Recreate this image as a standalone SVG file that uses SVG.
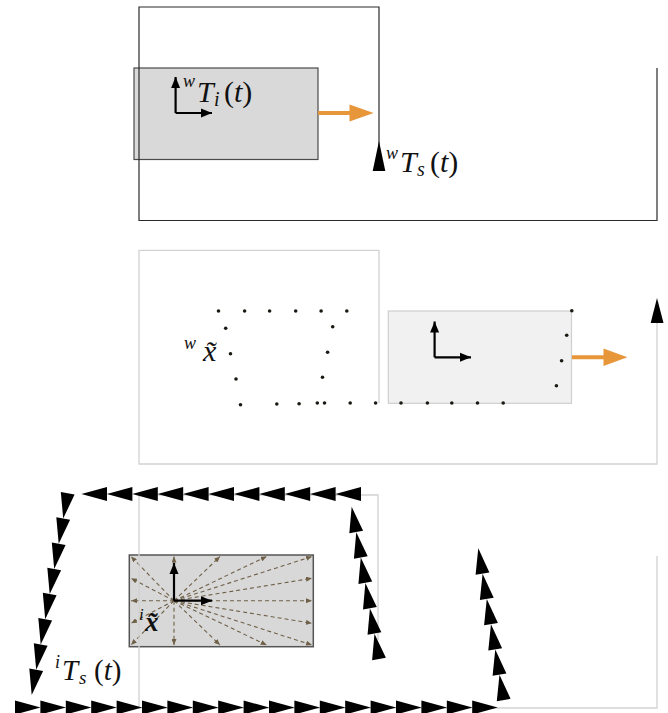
<svg xmlns="http://www.w3.org/2000/svg" xmlns:xlink="http://www.w3.org/1999/xlink" width="668" height="713" viewBox="0 0 668 713">
<style>
.math{font-family:"Liberation Serif","Times New Roman",serif;fill:#111;}
.it{font-style:italic;}
.dark{fill:none;stroke:#2a2a2a;stroke-width:1.2;}
.light{fill:none;stroke:#d2d2d2;stroke-width:1.3;}
.axis{fill:none;stroke:#000;stroke-width:2.2;marker-end:url(#ah);}
.ray{fill:none;stroke:#6f6048;stroke-width:1.1;stroke-dasharray:4 3;marker-end:url(#rh);}
.orange{fill:none;stroke:#e8963a;stroke-width:4;}
.ohead{fill:#e8963a;}
.dot{fill:#1a1a14;}
.tri{fill:#000;}
</style>
<defs>
<marker id="ah" markerUnits="userSpaceOnUse" markerWidth="12" markerHeight="10" refX="11" refY="4.5" orient="auto" viewBox="0 0 12 9"><path d="M0,0 L11,4.5 L0,9 Z" fill="#000"/></marker>
<marker id="rh" markerUnits="userSpaceOnUse" markerWidth="6" markerHeight="5" refX="6" refY="2.5" orient="auto" viewBox="0 0 6 5"><path d="M0,0 L6,2.5 L0,5 Z" fill="#6f6048"/></marker>
<path id="t" d="M0,-7 L25.6,0 L0,7 Z"/>
</defs>

<!-- Top panel -->
<g id="top-body">
<rect x="134" y="68" width="184" height="91.5" fill="#d9d9d9" stroke="#4a4a4a" stroke-width="1.2"/>
</g>
<g id="top-frame">
<path class="dark" d="M379,146 V7 H139 V220.5 H657 V68"/>
<path d="M379,141 L385.3,171 L372.7,171 Z" fill="#000"/>
</g>
<g id="top-axes">
<path class="axis" d="M175.6,113 V77"/>
<path class="axis" d="M175.6,113 H212"/>
</g>
<g id="top-motion">
<path class="orange" d="M318,113 H351"/>
<path class="ohead" d="M349.5,104.5 L373.6,113 L349.5,121.5 Z"/>
</g>
<g id="label-wTi" class="math">
<text x="183" y="87" font-size="18" class="it">w</text>
<text x="197" y="102" font-size="30" class="it">T</text>
<text x="214" y="106" font-size="20" class="it">i</text>
<text x="224" y="102" font-size="30">(<tspan class="it">t</tspan>)</text>
</g>
<g id="label-wTs" class="math">
<text x="386" y="159" font-size="18" class="it">w</text>
<text x="400" y="172" font-size="30" class="it">T</text>
<text x="417" y="176" font-size="20" class="it">s</text>
<text x="430" y="172" font-size="30">(<tspan class="it">t</tspan>)</text>
</g>

<!-- Middle panel -->
<g id="mid-body">
<rect x="388.3" y="311" width="183.2" height="92.3" fill="#f1f1f1" stroke="#cfcfcf" stroke-width="1.2"/>
</g>
<g id="mid-frame">
<path class="light" d="M379,403 V250.3 H139 V464 H657 V322"/>
<path d="M657,298 L663.5,323 L650.7,323 Z" fill="#000"/>
</g>
<g id="mid-axes">
<path class="axis" d="M434.6,357.3 V321.5"/>
<path class="axis" d="M434.6,357.3 H471"/>
</g>
<g id="mid-motion">
<path class="orange" d="M572,357.3 H605"/>
<path class="ohead" d="M603.5,348.5 L627.4,357.3 L603.5,366 Z"/>
</g>
<g id="mid-points">
<circle class="dot" cx="218.5" cy="311" r="1.8"/>
<circle class="dot" cx="244.6" cy="311" r="1.8"/>
<circle class="dot" cx="269.6" cy="311" r="1.8"/>
<circle class="dot" cx="295.7" cy="311" r="1.8"/>
<circle class="dot" cx="321.1" cy="311" r="1.8"/>
<circle class="dot" cx="346.8" cy="311" r="1.8"/>
<circle class="dot" cx="225.7" cy="328.3" r="1.8"/>
<circle class="dot" cx="230.5" cy="353.7" r="1.8"/>
<circle class="dot" cx="236" cy="379" r="1.8"/>
<circle class="dot" cx="240.5" cy="404.7" r="1.8"/>
<circle class="dot" cx="332.7" cy="326.7" r="1.8"/>
<circle class="dot" cx="327.6" cy="352.3" r="1.8"/>
<circle class="dot" cx="322.5" cy="377.3" r="1.8"/>
<circle class="dot" cx="276.8" cy="404" r="1.8"/>
<circle class="dot" cx="299.1" cy="403.7" r="1.8"/>
<circle class="dot" cx="317.3" cy="403" r="1.8"/>
<circle class="dot" cx="324.5" cy="403" r="1.8"/>
<circle class="dot" cx="350.2" cy="403" r="1.8"/>
<circle class="dot" cx="375.6" cy="403" r="1.8"/>
<circle class="dot" cx="401" cy="403" r="1.8"/>
<circle class="dot" cx="427.4" cy="403" r="1.8"/>
<circle class="dot" cx="451.8" cy="403" r="1.8"/>
<circle class="dot" cx="477.5" cy="403" r="1.8"/>
<circle class="dot" cx="503.2" cy="403" r="1.8"/>
<circle class="dot" cx="571.8" cy="310.7" r="1.8"/>
<circle class="dot" cx="566.7" cy="335.3" r="1.8"/>
<circle class="dot" cx="561.6" cy="360.7" r="1.8"/>
<circle class="dot" cx="556.4" cy="385.7" r="1.8"/>
</g>
<g id="label-wx" class="math">
<text x="184" y="349" font-size="18" class="it">w</text>
<text x="203" y="361" font-size="30" class="it">x̃</text>
</g>

<!-- Bottom panel -->
<g id="bot-body">
<rect x="129.3" y="555" width="184" height="91.7" fill="#d8d8d8" stroke="#555" stroke-width="1.5"/>
</g>
<g id="bot-rays">
<path class="ray" d="M174,600.7 L131,556.5"/>
<path class="ray" d="M174,600.7 L174,556.5"/>
<path class="ray" d="M174,600.7 L220,556.5"/>
<path class="ray" d="M174,600.7 L266.7,556.5"/>
<path class="ray" d="M174,600.7 L312,556.5"/>
<path class="ray" d="M174,600.7 L312,578.3"/>
<path class="ray" d="M174,600.7 L312,600.7"/>
<path class="ray" d="M174,600.7 L312,623.3"/>
<path class="ray" d="M174,600.7 L312,645"/>
<path class="ray" d="M174,600.7 L266.7,645"/>
<path class="ray" d="M174,600.7 L220,645"/>
<path class="ray" d="M174,600.7 L174,645"/>
<path class="ray" d="M174,600.7 L131,645"/>
<path class="ray" d="M174,600.7 L131,623.3"/>
<path class="ray" d="M174,600.7 L131,600.7"/>
<path class="ray" d="M174,600.7 L131,578.3"/>
</g>
<g id="bot-frame">
<path class="light" d="M378,640 V495 H139 V708 H657 V556"/>
</g>
<g id="bot-axes">
<path class="axis" d="M174,600.7 V563"/>
<path class="axis" d="M174,600.7 H212"/>
</g>
<g id="label-ix" class="math">
<text x="139" y="620" font-size="17" class="it">i</text>
<text x="145" y="631" font-size="27" class="it" font-weight="bold">x̃</text>
</g>
<g id="label-iTs" class="math">
<text x="55" y="668" font-size="18" class="it">i</text>
<text x="62" y="680" font-size="29" class="it">T</text>
<text x="79" y="684" font-size="19" class="it">s</text>
<text x="94" y="680" font-size="29">(<tspan class="it">t</tspan>)</text>
</g>
<g id="trajectory" class="tri">
<!-- bottom row, pointing right -->
<use xlink:href="#t" href="#t" transform="translate(15,707.5)"/>
<use xlink:href="#t" href="#t" transform="translate(40.4,707.5)"/>
<use xlink:href="#t" href="#t" transform="translate(65.8,707.5)"/>
<use xlink:href="#t" href="#t" transform="translate(91.2,707.5)"/>
<use xlink:href="#t" href="#t" transform="translate(116.6,707.5)"/>
<use xlink:href="#t" href="#t" transform="translate(142,707.5)"/>
<use xlink:href="#t" href="#t" transform="translate(167.4,707.5)"/>
<use xlink:href="#t" href="#t" transform="translate(192.8,707.5)"/>
<use xlink:href="#t" href="#t" transform="translate(218.2,707.5)"/>
<use xlink:href="#t" href="#t" transform="translate(243.6,707.5)"/>
<use xlink:href="#t" href="#t" transform="translate(269,707.5)"/>
<use xlink:href="#t" href="#t" transform="translate(294.4,707.5)"/>
<use xlink:href="#t" href="#t" transform="translate(319.8,707.5)"/>
<use xlink:href="#t" href="#t" transform="translate(345.2,707.5)"/>
<use xlink:href="#t" href="#t" transform="translate(370.6,707.5)"/>
<use xlink:href="#t" href="#t" transform="translate(396,707.5)"/>
<use xlink:href="#t" href="#t" transform="translate(421.4,707.5)"/>
<use xlink:href="#t" href="#t" transform="translate(446.8,707.5)"/>
<use xlink:href="#t" href="#t" transform="translate(472.2,707.5)"/>
<!-- right column 2, pointing up -->
<use xlink:href="#t" href="#t" transform="translate(503.7,700) rotate(-99.5)"/>
<use xlink:href="#t" href="#t" transform="translate(499.5,674.7) rotate(-99.5)"/>
<use xlink:href="#t" href="#t" transform="translate(495.2,649.4) rotate(-99.5)"/>
<use xlink:href="#t" href="#t" transform="translate(491,624.2) rotate(-99.5)"/>
<use xlink:href="#t" href="#t" transform="translate(486.8,598.9) rotate(-99.5)"/>
<use xlink:href="#t" href="#t" transform="translate(482.5,573.6) rotate(-99.5)"/>
<!-- right column 1, pointing up -->
<use xlink:href="#t" href="#t" transform="translate(379,659) rotate(-100.2)"/>
<use xlink:href="#t" href="#t" transform="translate(374.45,633.6) rotate(-100.2)"/>
<use xlink:href="#t" href="#t" transform="translate(369.9,608.2) rotate(-100.2)"/>
<use xlink:href="#t" href="#t" transform="translate(365.3,582.8) rotate(-100.2)"/>
<use xlink:href="#t" href="#t" transform="translate(360.8,557.4) rotate(-100.2)"/>
<use xlink:href="#t" href="#t" transform="translate(356.2,532) rotate(-100.2)"/>
<!-- top row, pointing left -->
<use xlink:href="#t" href="#t" transform="translate(361,494) rotate(180)"/>
<use xlink:href="#t" href="#t" transform="translate(335.6,494) rotate(180)"/>
<use xlink:href="#t" href="#t" transform="translate(310.2,494) rotate(180)"/>
<use xlink:href="#t" href="#t" transform="translate(284.8,494) rotate(180)"/>
<use xlink:href="#t" href="#t" transform="translate(259.4,494) rotate(180)"/>
<use xlink:href="#t" href="#t" transform="translate(234,494) rotate(180)"/>
<use xlink:href="#t" href="#t" transform="translate(208.6,494) rotate(180)"/>
<use xlink:href="#t" href="#t" transform="translate(183.2,494) rotate(180)"/>
<use xlink:href="#t" href="#t" transform="translate(157.8,494) rotate(180)"/>
<use xlink:href="#t" href="#t" transform="translate(132.4,494) rotate(180)"/>
<use xlink:href="#t" href="#t" transform="translate(107,494) rotate(180)"/>
<!-- left column, pointing down -->
<use xlink:href="#t" href="#t" transform="translate(67.7,493.3) rotate(100.1)"/>
<use xlink:href="#t" href="#t" transform="translate(63.2,518.5) rotate(100.1)"/>
<use xlink:href="#t" href="#t" transform="translate(58.7,543.7) rotate(100.1)"/>
<use xlink:href="#t" href="#t" transform="translate(54.2,568.9) rotate(100.1)"/>
<use xlink:href="#t" href="#t" transform="translate(49.7,594.1) rotate(100.1)"/>
<use xlink:href="#t" href="#t" transform="translate(45.2,619.3) rotate(100.1)"/>
<use xlink:href="#t" href="#t" transform="translate(40.7,644.5) rotate(100.1)"/>
<use xlink:href="#t" href="#t" transform="translate(36.2,669.7) rotate(100.1)"/>
</g>
</svg>
